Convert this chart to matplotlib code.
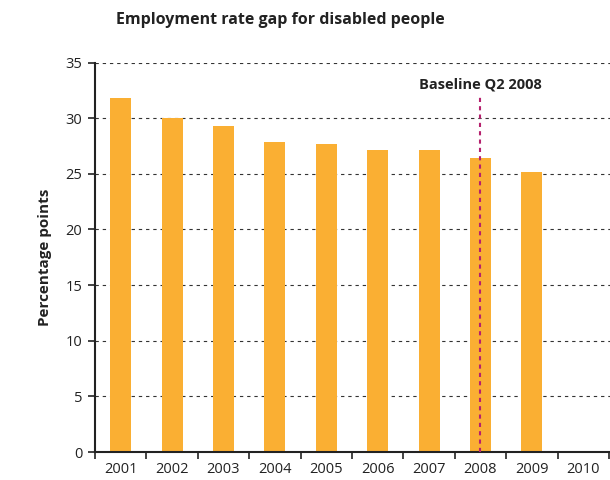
import matplotlib.pyplot as plt
import numpy as np

# yearly gap in employment rate (percentage points)
years = ['2001', '2002', '2003', '2004', '2005', '2006', '2007', '2008', '2009', '2010']
gap = [31.8, 30.0, 29.3, 27.9, 27.7, 27.1, 27.1, 26.4, 25.2]
baseline_year = '2008'
baseline_label = 'Baseline Q2 2008'

plt.rcParams['font.family'] = ['Open Sans', 'DejaVu Sans']

fig = plt.figure(figsize=(6.1, 4.8), dpi=100)
ax = fig.add_axes([95 / 610, 1 - 452 / 480, 515 / 610, (452 - 62.5) / 480])

x = np.arange(len(years))
ax.bar(x[:len(gap)], gap, width=0.41, color='#FAAF33', zorder=2)

# dashed gridlines every 5 points
ax.set_ylim(0, 35)
ax.set_yticks(np.arange(0, 36, 5))
ax.yaxis.grid(True, color='#333333', linestyle=(0, (3, 3.5)), linewidth=0.8, zorder=1)
ax.set_axisbelow(True)

ax.set_xlim(-0.5, len(years) - 0.5 + 0.02)
ax.set_xticks(x)
ax.set_xticklabels(years)
ax.set_xticks(np.arange(-0.5, len(years) + 0.5, 1), minor=True)
ax.tick_params(axis='x', which='major', length=0, pad=7, labelsize=10.5, colors='#222222')
ax.tick_params(axis='x', which='minor', length=5, width=1.2, color='#222222')
ax.tick_params(axis='y', length=5, width=1.2, pad=4, labelsize=10.5, colors='#222222')

for side in ['top', 'right']:
    ax.spines[side].set_visible(False)
for side in ['left', 'bottom']:
    ax.spines[side].set_linewidth(1.5)
    ax.spines[side].set_color('#222222')

# baseline marker
bx = years.index(baseline_year)
ax.plot([bx, bx], [0, 32.1], color='#B5216E', linestyle=(0, (2, 2)), linewidth=1.5, zorder=3)
ax.text(bx, 33.05, baseline_label, ha='center', va='center', fontsize=10.5,
        fontweight='bold', color='#222222')

ax.set_ylabel('Percentage points', fontsize=11, fontweight='bold', color='#222222', labelpad=10)
fig.text(280 / 610, 1 - 20 / 480, 'Employment rate gap for disabled people',
         ha='center', va='center', fontsize=11.5, fontweight='bold', color='#222222')

fig.savefig('out.png', dpi=100)
